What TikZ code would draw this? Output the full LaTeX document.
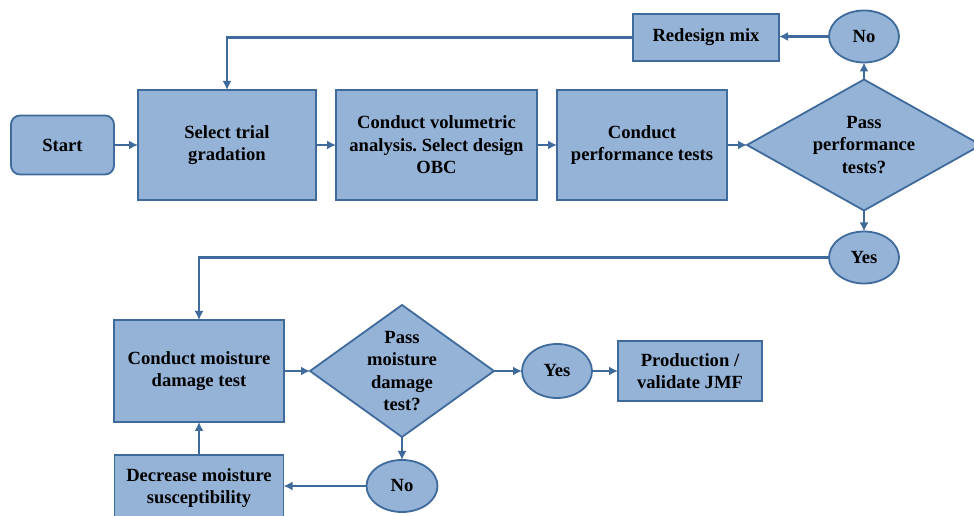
\documentclass[tikz,border=0pt]{standalone}
\usepackage{fontspec}
\setmainfont{Liberation Serif}
\usepackage{xcolor}
\usepackage{tikz}
\usetikzlibrary{positioning,shapes.geometric,arrows.meta}
\definecolor{boxfill}{HTML}{95B3D7}
\definecolor{boxline}{HTML}{3F6A9C}
\tikzstyle{base} = [draw=boxline, line width=1.8pt, fill=boxfill, align=center, inner sep=0pt, outer sep=0pt]
\tikzstyle{startstop} = [base, rounded corners=9pt, minimum width=103pt, minimum height=59pt]
\tikzstyle{process} = [base, rectangle, minimum height=110pt]
\tikzstyle{decision} = [base, diamond, aspect=1.8, minimum width=234pt, minimum height=131pt]
\tikzstyle{answer} = [base, ellipse, minimum width=70pt, minimum height=52pt]
\tikzstyle{arrow} = [draw=boxline, line width=2.4pt, -{Latex[length=9pt,width=9pt]}]
\frenchspacing

\begin{document}
\begin{tikzpicture}[x=1pt, y=1pt, every node/.style={font=\bfseries\fontsize{18.6}{22.5}\selectfont}]
		\clip (0,0) rectangle (974,516);
		\fill[white] (0,0) rectangle (974,516);

		% first row
		\node (start) [startstop] at (62.5,371) {Start};
		\node (gradation) [process, minimum width=178pt, right=24pt of start] {Select trial\\gradation};
		\node (volumetric) [process, minimum width=201pt, right=20pt of gradation] {Conduct volumetric\\analysis. Select design\\OBC};
		\node (perftest) [process, minimum width=170pt, right=20pt of volumetric] {Conduct\\performance tests};
		\node (perfpass) [decision, right=20pt of perftest] {Pass\\performance\\tests?};
		\node (perfno) [answer, above=17pt of perfpass] {No};
		\node (redesign) [base, minimum width=146pt, minimum height=47pt, left=50pt of perfno, yshift=-1pt] {Redesign mix};
		\node (perfyes) [answer, below=21pt of perfpass] {Yes};

		\draw [arrow] (start) -- (gradation);
		\draw [arrow] (gradation) -- (volumetric);
		\draw [arrow] (volumetric) -- (perftest);
		\draw [arrow] (perftest) -- (perfpass);
		\draw [arrow] (perfpass) -- (perfno);
		\draw [arrow] (perfno) -- (perfno -| redesign.east);
		\draw [arrow] (redesign.west) -| (gradation.north);
		\draw [arrow] (perfpass) -- (perfyes);

		% second row
		\node (moisture) [process, minimum width=170pt, minimum height=102pt] at (199,145) {Conduct moisture\\damage test};
		\node (moistpass) [decision, aspect=1.4, minimum width=184pt, minimum height=132pt, right=26pt of moisture] {Pass\\moisture\\damage\\test?};
		\node (moistyes) [answer, minimum height=54pt, right=28pt of moistpass] {Yes};
		\node (production) [base, minimum width=144pt, minimum height=60pt, right=26pt of moistyes] {Production /\\validate JMF};
		\node (moistno) [answer, minimum width=71pt, below=23pt of moistpass] {No};
		\node (decrease) [base, minimum width=169pt, minimum height=66pt, below=33pt of moisture] {Decrease moisture\\susceptibility};

		\draw [arrow] (perfyes.west) -| (moisture.north);
		\draw [arrow] (moisture) -- (moistpass);
		\draw [arrow] (moistpass) -- (moistyes);
		\draw [arrow] (moistyes) -- (production);
		\draw [arrow] (moistpass) -- (moistno);
		\draw [arrow] (moistno.west) -- (moistno.west -| decrease.east);
		\draw [arrow] (decrease) -- (moisture);
	\end{tikzpicture}
\end{document}
